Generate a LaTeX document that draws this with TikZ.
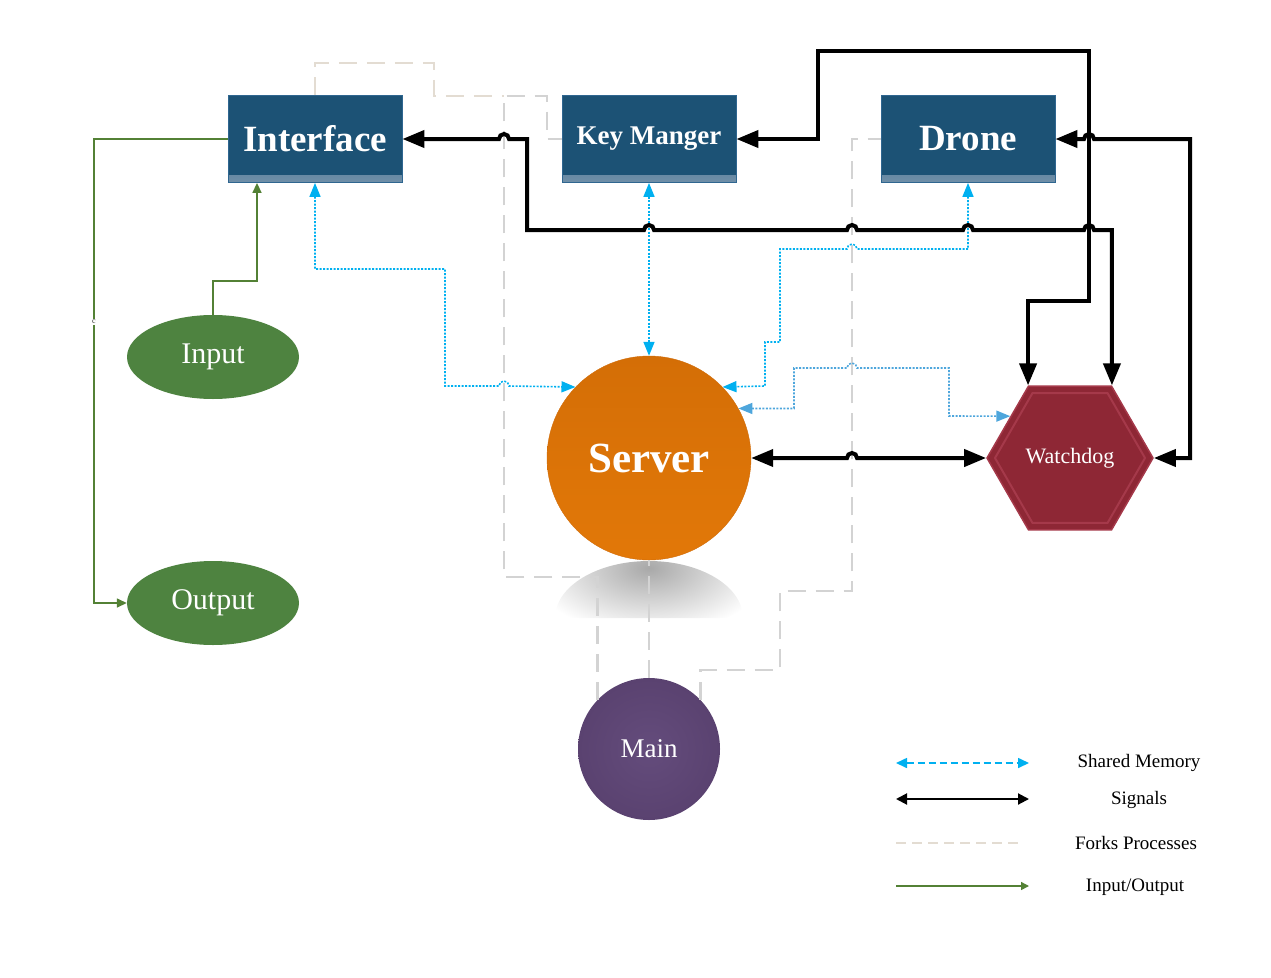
\documentclass[tikz,border=0pt]{standalone}
\usepackage{fontspec}
\setmainfont{Liberation Serif}
\usetikzlibrary{arrows.meta,shapes.geometric,positioning}

\definecolor{boxblue}{HTML}{1C5275}
\definecolor{boxlight}{HTML}{6F8FA8}
\definecolor{boxedge}{HTML}{2F6690}
\definecolor{iogreen}{HTML}{4E8340}
\definecolor{iowire}{HTML}{538135}
\definecolor{svtop}{HTML}{D46E06}
\definecolor{svbot}{HTML}{E27808}
\definecolor{svedge}{HTML}{D06C0A}
\definecolor{mnpurple}{HTML}{5A4270}
\definecolor{mnlight}{HTML}{644C7C}
\definecolor{wdred}{HTML}{8E2735}
\definecolor{wdlight}{HTML}{A5394A}
\definecolor{memcyan}{HTML}{00B0F0}
\definecolor{memblue}{HTML}{4EA6DC}
\definecolor{forkgray}{HTML}{D3D3D3}
\definecolor{forkbeige}{HTML}{E3DCD2}

\begin{document}
\begin{tikzpicture}[x=1pt,y=-1pt,>={Triangle[length=22pt,width=17pt]},
                    line join=miter]

  \tikzstyle{procbox}=[rectangle,fill=boxblue,draw=boxedge,line width=0.8pt,
    minimum width=174pt,minimum height=87pt,inner sep=0pt,text=white,
    font=\bfseries\fontsize{37}{40}\selectfont,
    path picture={\shade[top color=boxblue,bottom color=boxlight]
      ([yshift=7pt]path picture bounding box.south west) rectangle
      (path picture bounding box.south east);}]
  \tikzstyle{ioblob}=[ellipse,fill=iogreen,minimum width=172pt,minimum height=84pt,
    inner sep=0pt,text=white,font=\fontsize{30}{32}\selectfont]
  \tikzstyle{hexbox}=[regular polygon,regular polygon sides=6,minimum size=166pt,
    inner sep=0pt,fill=wdred,draw=wdlight,line width=1.5pt,text=white,
    font=\fontsize{22}{24}\selectfont,
    path picture={\draw[wdlight,line width=2pt]
      ([shift={(0:75pt)}]path picture bounding box.center) -- ++(120:75pt)
      -- ++(180:75pt) -- ++(240:75pt) -- ++(300:75pt) -- ++(0:75pt) -- cycle;}]
  \tikzstyle{signal}=[draw=black,line width=4pt,<->]
  \tikzstyle{shmem}=[draw=memcyan,line width=1.6pt,dash pattern=on 2pt off 1.5pt,
    <->,>={Triangle[length=14pt,width=11pt]}]
  \tikzstyle{fork}=[draw=forkgray,line width=2.8pt,dash pattern=on 18pt off 10pt]
  \tikzstyle{ioline}=[draw=iowire,line width=1.5pt,->,>={Triangle[length=10pt,width=9pt]}]
  \tikzstyle{legtext}=[font=\fontsize{19}{21}\selectfont]

  \useasboundingbox (0,0) rectangle (1271,977);

  % shadow under the server
  \begin{scope}
    \clip (555,618) arc[start angle=180,end angle=0,x radius=94pt,y radius=57pt] -- cycle;
    \shade[inner color=black!34,outer color=white] (649,568) ellipse (120 and 66);
  \end{scope}

  \node[procbox] (IF) at (315,139) {Interface};
  \node[procbox] (KM) [right of=IF,node distance=334pt,
                       font=\bfseries\fontsize{27}{30}\selectfont] {Key Manger};
  \node[procbox] (DR) [right of=KM,node distance=319pt] {Drone};
  \node[circle,minimum size=204pt,inner sep=0pt,top color=svtop,bottom color=svbot,
        draw=svedge,text=white,font=\bfseries\fontsize{43}{46}\selectfont]
        (SV) [below of=KM,node distance=319pt] {Server};
  \node[hexbox] (WD) [right of=SV,node distance=421pt] {Watchdog};
  \node[circle,minimum size=142pt,inner sep=0pt,inner color=mnlight,outer color=mnpurple,
        text=white,font=\fontsize{27}{30}\selectfont]
        (MN) [below of=SV,node distance=291pt] {Main};
  \node[ioblob] (IN) at (213,357) {Input};
  \node[ioblob] (OUT) [below of=IN,node distance=246pt] {Output};

  % forks
  \draw[fork,draw=forkbeige] (IF.north) |- (434,63) |- (504,96);
  \draw[fork] (MN.136) |- (504,577) |- (547,96) |- (KM.west);
  \draw[fork] (MN.north) -- (SV.south);
  \draw[fork] (MN.44) |- (780,670) |- (852,591) |- (DR.west);

  % shared memory
  \draw[shmem] (IF.south) |- (445,269) |- (499,386) arc (180:0:5pt) -- (SV.136);
  \draw[shmem] (KM.south) -- (SV.north);
  \draw[shmem] (DR.south) |- (857,249) arc (0:180:5pt) -| (780,342) -| (765,386)
    -- (SV.44);
  \draw[shmem,draw=memblue] (SV.29) -| (794,368) -- (847,368) arc (180:0:5pt)
    -| (949,416) -- (WD.145);

  % signals
  \draw[signal] (IF.east) -- (499,139) arc (180:0:5pt) -- (527,139) -- (527,230)
    -- (644,230) arc (180:0:5pt) -- (847,230) arc (180:0:5pt)
    -- (963,230) arc (180:0:5pt) -- (1084,230) arc (180:0:5pt) -| (WD.60);
  \draw[signal] (KM.east) -- (818,139) -- (818,51) -- (1089,51) -- (1089,301)
    -| (WD.120);
  \draw[signal] (DR.east) -- (1084,139) arc (180:0:5pt) -- (1190,139) |- (WD.0);
  \draw[signal] (SV.east) -- (847,458) arc (180:0:5pt) -- (WD.180);

  % input / output
  \draw[ioline] (IN.north) -- (213,281) -- (257,281) -- ([xshift=-58pt]IF.south);
  \draw[ioline] (IF.west) -- (94,139)
    -- node[pos=0.394,fill=white,inner sep=1pt,text=black!80,
            font=\fontsize{8}{8}\selectfont] {c} (94,603) -- (OUT.west);

  % legend
  \coordinate (shA) at (896,763);  \coordinate (shB) at (1029,763);
  \coordinate (sgA) at (896,799);  \coordinate (sgB) at (1029,799);
  \coordinate (fkA) at (896,843);  \coordinate (fkB) at (1024,843);
  \coordinate (ioA) at (896,886);  \coordinate (ioB) at (1029,886);
  \draw[shmem,dash pattern=on 7pt off 4pt,>={Triangle[length=11pt,width=10pt]}] (shA) -- (shB);
  \draw[signal,line width=2pt,>={Triangle[length=11pt,width=11pt]}] (sgA) -- (sgB);
  \draw[fork,draw=forkbeige,line width=2pt,dash pattern=on 10pt off 6pt] (fkA) -- (fkB);
  \draw[ioline,>={Triangle[length=8pt,width=8pt]}] (ioA) -- (ioB);
  \node[legtext] (shT) at (1139,763) {Shared Memory};
  \node[legtext] (sgT) at (1139,800) {Signals};
  \node[legtext] (fkT) at (1136,843) {Forks Processes};
  \node[legtext] (ioT) at (1135,887) {Input/Output};
\end{tikzpicture}
\end{document}
